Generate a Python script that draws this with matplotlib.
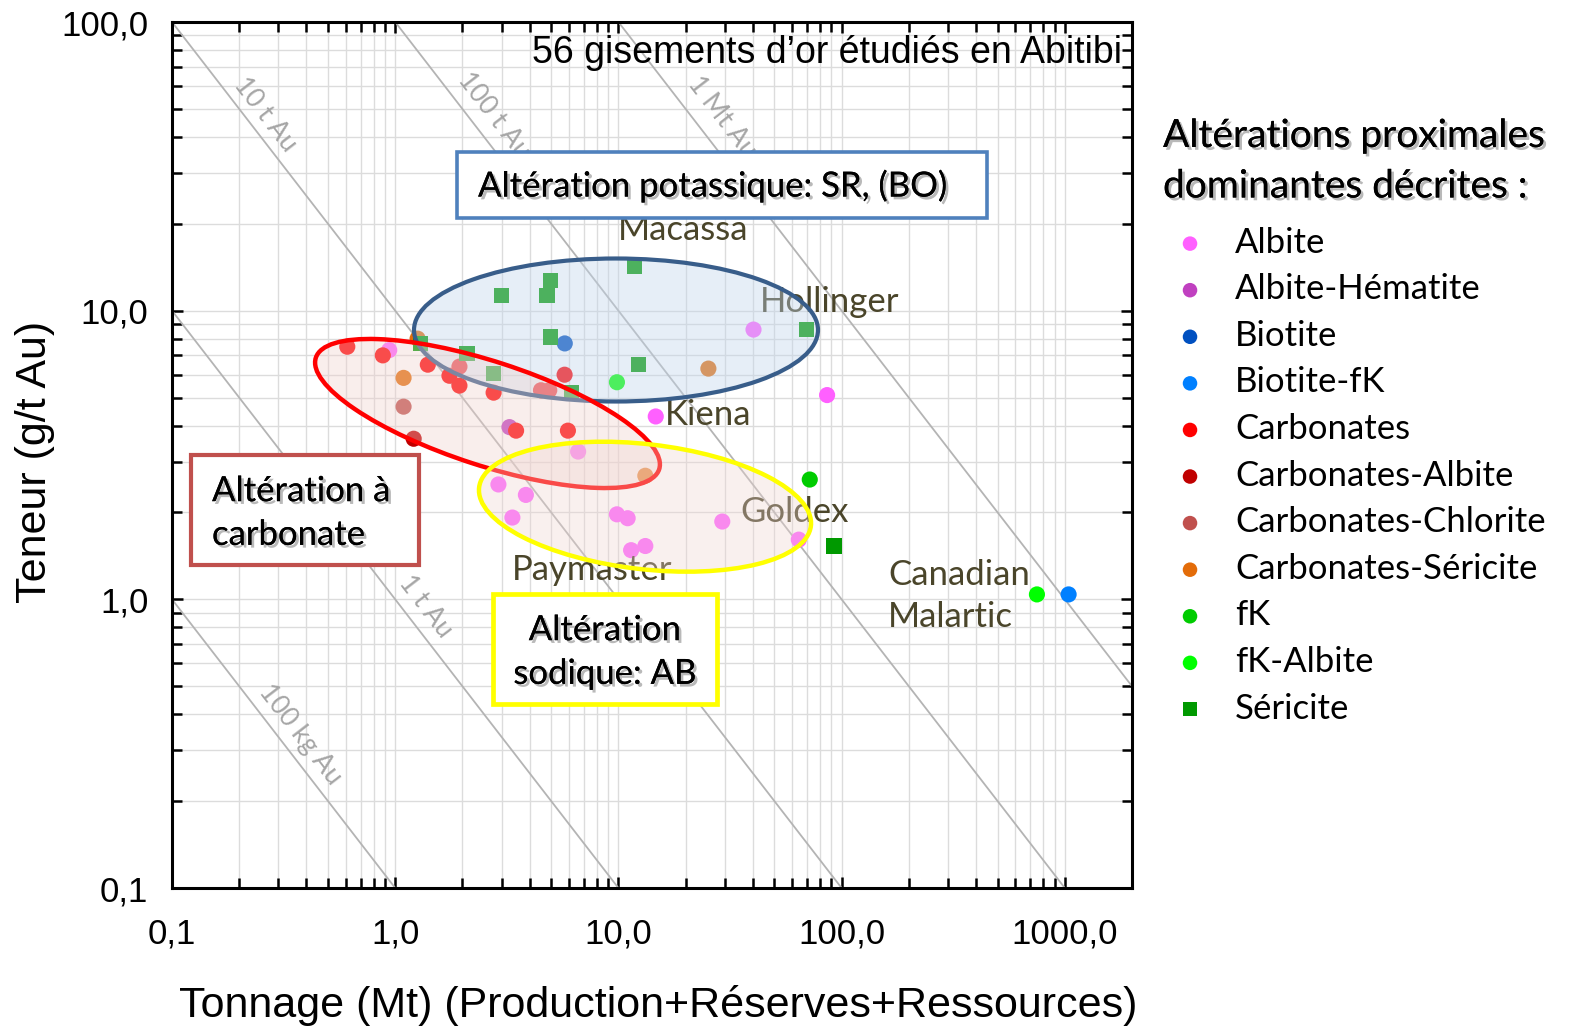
import matplotlib
matplotlib.use("Agg")
import matplotlib.pyplot as plt
import matplotlib.patheffects as pe
from matplotlib.patches import Ellipse, Rectangle
from matplotlib.transforms import Affine2D
from matplotlib.ticker import FixedLocator, LogLocator, NullFormatter
import numpy as np

# ---- deposit data: tonnage (Mt) and grade (g/t Au) by dominant alteration ----
albite_t = [0.94, 40.3, 14.7, 86.1, 6.6, 2.9, 3.85, 3.35, 9.85, 11.0, 11.4, 13.2, 29.2, 64.3]
albite_g = [7.3, 8.6, 4.3, 5.1, 3.25, 2.5, 2.3, 1.92, 1.97, 1.91, 1.48, 1.53, 1.86, 1.61]
albite_hem_t = [3.25]
albite_hem_g = [3.95]
biotite_t = [5.75]
biotite_g = [7.7]
biotite_fk_t = [1040]
biotite_fk_g = [1.04]
carb_t = [0.61, 0.88, 1.40, 1.75, 1.94, 2.76, 5.74, 3.48, 5.94, 4.5, 4.9, 1.94]
carb_g = [7.5, 7.0, 6.5, 5.95, 5.5, 5.2, 6.0, 3.84, 3.84, 5.3, 5.3, 6.4]
carb_alb_t = [1.21]
carb_alb_g = [3.6]
carb_chl_t = [1.09]
carb_chl_g = [4.65]
carb_ser_t = [1.26, 1.09, 25.3, 13.2]
carb_ser_g = [8.0, 5.85, 6.3, 2.68]
fk_t = [72]
fk_g = [2.6]
fk_alb_t = [9.85, 750]
fk_alb_g = [5.65, 1.04]
sericite_t = [11.8, 4.97, 4.8, 3.0, 4.97, 69.5, 12.3, 1.30, 2.10, 2.76, 6.15, 92.3]
sericite_g = [14.2, 12.7, 11.3, 11.3, 8.1, 8.6, 6.5, 7.7, 7.1, 6.05, 5.2, 1.53]

categories = ["Albite", "Albite-Hématite", "Biotite", "Biotite-fK", "Carbonates",
              "Carbonates-Albite", "Carbonates-Chlorite", "Carbonates-Séricite",
              "fK", "fK-Albite", "Séricite"]
series_t = [albite_t, albite_hem_t, biotite_t, biotite_fk_t, carb_t, carb_alb_t,
            carb_chl_t, carb_ser_t, fk_t, fk_alb_t, sericite_t]
series_g = [albite_g, albite_hem_g, biotite_g, biotite_fk_g, carb_g, carb_alb_g,
            carb_chl_g, carb_ser_g, fk_g, fk_alb_g, sericite_g]
colors = ["#FF60FF", "#C040C0", "#0050C0", "#0080FF", "#FF0000", "#C00000",
          "#C0504D", "#E36C09", "#00CC00", "#00FF00", "#009900"]
markers = ["o"] * 10 + ["s"]

# iso-contained-gold lines (t Au = Mt x g/t)
iso_values = [0.1, 1, 10, 100, 1000]
iso_labels = ["100 kg Au", "1 t Au", "10 t Au", "100 t Au", "1 Mt Au"]

x_ticks = [0.1, 1, 10, 100, 1000]
x_ticklabels = ["0,1", "1,0", "10,0", "100,0", "1000,0"]
y_ticks = [0.1, 1, 10, 100]
y_ticklabels = ["0,1", "1,0", "10,0", "100,0"]

deposit_names = ["Macassa", "Hollinger", "Kiena", "Goldex", "Paymaster", "Canadian\nMalartic"]

# ---- figure ----
W, H = 1572, 1026
fig = plt.figure(figsize=(W / 100, H / 100), dpi=100)
ax = fig.add_axes([172 / W, 1 - 888 / H, 960 / W, 866 / H])
pix = Affine2D().scale(1 / W, -1 / H).translate(0, 1) + fig.transFigure

ARIAL = "Liberation Sans"
CAL = "Lato"

ax.set_xscale("log")
ax.set_yscale("log")
ax.set_xlim(0.1, 2000)
ax.set_ylim(0.1, 100)

ax.grid(which="both", color="#DCDCDC", lw=1.0, zorder=0)
ax.set_axisbelow(True)

# iso-lines
tt = np.logspace(-1, np.log10(2000), 200)
for v in iso_values:
    ax.plot(tt, v / tt, color="#B4B4B4", lw=1.3, zorder=1)

iso_label_pos = [(300, 735), (426, 607), (265, 115), (494, 116), (722, 117)]
for lab, (px, py) in zip(iso_labels, iso_label_pos):
    ax.text(px, py, lab, transform=pix, rotation=-52.4, rotation_mode="anchor",
            ha="center", va="center", fontsize=19, color="#A6A6A6",
            family=CAL, zorder=1)

# deposits
handles = []
for name, t, g, c, m in zip(categories, series_t, series_g, colors, markers):
    s = 135 if m == "o" else 125
    h = ax.scatter(t, g, s=s, c=c, marker=m, edgecolors="none", zorder=3, label=name)
    handles.append(h)

# deposit names
lab_color = "#4A452A"
lab_pos = [(683, 230, "center"), (760, 302, "left"), (665, 415, "left"),
           (740, 512, "left"), (512, 570, "left"), (888, 596, "left")]
for name, (px, py, ha) in zip(deposit_names, lab_pos):
    ax.text(px, py, name, transform=pix, ha=ha, va="center", fontsize=25,
            color=lab_color, family=CAL, linespacing=1.38, zorder=3)

# alteration envelopes
ax.add_patch(Ellipse((616, 330), 404, 143, angle=0, transform=pix,
                     facecolor=(0.76, 0.84, 0.925, 0.4), edgecolor="#385D8A",
                     lw=3.0, zorder=4))
ax.add_patch(Ellipse((487.5, 413.5), 361, 104, angle=18, transform=pix,
                     facecolor=(0.94, 0.82, 0.80, 0.37), edgecolor="#FF0000",
                     lw=3.2, zorder=5))
ax.add_patch(Ellipse((645, 506.7), 334, 125, angle=6.6, transform=pix,
                     facecolor=(0.94, 0.84, 0.82, 0.35), edgecolor="#FFFF00",
                     lw=3.2, zorder=6))

# annotation boxes
shadow = [pe.withSimplePatchShadow(offset=(2, -2), shadow_rgbFace="#808080", alpha=0.55),
          pe.Normal()]
ax.add_patch(Rectangle((457, 152), 530, 66, transform=pix, facecolor="white",
                       edgecolor="#4F81BD", lw=2.6, zorder=7))
ax.text(478, 186, "Altération potassique: SR, (BO)", transform=pix, ha="left",
        va="center", fontsize=25, family=CAL, color="black", zorder=8,
        path_effects=shadow)

ax.add_patch(Rectangle((191, 455), 228, 110, transform=pix, facecolor="white",
                       edgecolor="#C0504D", lw=3.0, zorder=7))
ax.text(212, 513, "Altération à\ncarbonate", transform=pix, ha="left",
        va="center", fontsize=25, family=CAL, color="black", linespacing=1.45,
        zorder=8, path_effects=shadow)

ax.add_patch(Rectangle((493, 594), 224, 110, transform=pix, facecolor="white",
                       edgecolor="#FFFF00", lw=3.4, zorder=7))
ax.text(605, 652, "Altération\nsodique: AB", transform=pix, ha="center",
        va="center", fontsize=25, family=CAL, color="black", linespacing=1.45,
        multialignment="center", zorder=8, path_effects=shadow)

# title inside the frame
ax.text(1122, 53, "56 gisements d\u2019or étudiés en Abitibi", transform=pix,
        ha="right", va="center", fontsize=27, family=ARIAL, color="black", zorder=8)

# axes styling
for sp in ax.spines.values():
    sp.set_linewidth(2.2)
    sp.set_zorder(9)
ax.xaxis.set_major_locator(FixedLocator(x_ticks))
ax.yaxis.set_major_locator(FixedLocator(y_ticks))
ax.set_xticklabels(x_ticklabels, family=ARIAL, fontsize=25)
ax.set_yticklabels(y_ticklabels, family=ARIAL, fontsize=25)
ax.xaxis.set_minor_locator(LogLocator(base=10, subs=np.arange(2, 10), numticks=20))
ax.yaxis.set_minor_locator(LogLocator(base=10, subs=np.arange(2, 10), numticks=20))
ax.xaxis.set_minor_formatter(NullFormatter())
ax.yaxis.set_minor_formatter(NullFormatter())
ax.tick_params(which="both", direction="in", top=True, right=True, width=1.8,
               color="black")
ax.tick_params(which="major", length=8)
ax.tick_params(which="minor", length=7)
ax.tick_params(axis="x", which="major", pad=21)
ax.tick_params(axis="y", which="major", pad=17)

ax.set_xlabel("Tonnage (Mt) (Production+Réserves+Ressources)", family=ARIAL, fontsize=31)
ax.set_ylabel("Teneur (g/t Au)", family=ARIAL, fontsize=31)
ax.xaxis.set_label_coords((658 - 172) / 960, (888 - 1005) / 866)
ax.yaxis.set_label_coords((35 - 172) / 960, (888 - 462) / 866)
ax.xaxis.label.set_va("center")
ax.yaxis.label.set_va("center")

# legend
leg = fig.legend(handles=handles, labels=categories, loc="upper left",
                 bbox_to_anchor=(1163 / W, 1 - 118 / H), frameon=False,
                 borderpad=0, borderaxespad=0, markerscale=0.9,
                 handlelength=1.556, handletextpad=0.52, labelspacing=0.42,
                 prop={"family": CAL, "size": 25},
                 title="Altérations proximales\ndominantes décrites :",
                 title_fontproperties={"family": CAL, "size": 28},
                 alignment="left")
leg.get_title().set_linespacing(1.5)
leg.get_title().set_path_effects(shadow)
leg._legend_box.sep = 16

fig.savefig("out.png", dpi=100)
